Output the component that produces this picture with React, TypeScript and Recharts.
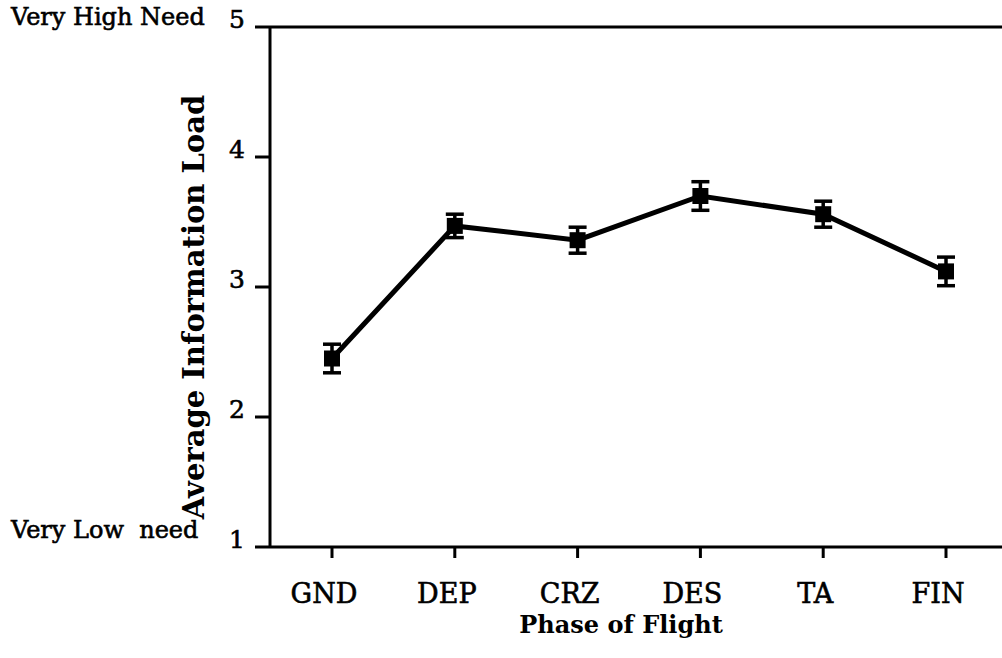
import React from 'react';
import { LineChart, Line, XAxis, YAxis, ErrorBar, ReferenceLine } from 'recharts';

const phases = ['GND', 'DEP', 'CRZ', 'DES', 'TA', 'FIN'];
const loads = [2.45, 3.47, 3.36, 3.7, 3.56, 3.12];
const errors = [0.11, 0.09, 0.1, 0.11, 0.1, 0.11];
const yTicks = [1, 2, 3, 4, 5];

const data = phases.map((phase, i) => ({ phase, load: loads[i], err: errors[i] }));

const FONT = '"DejaVu Serif", "Liberation Serif", serif';
// scanned original looks heavier than a regular weight
const ink = { fill: '#000', stroke: '#000', strokeWidth: 0.6 };

const SquareDot = (props: any) => {
  const { cx, cy } = props;
  if (cx == null || cy == null) return null;
  return <rect x={cx - 8} y={cy - 8} width={16} height={16} fill="#000" />;
};

const YTick = (props: any) => {
  const { y, payload } = props;
  return (
    <g>
      <text x={245} y={y + 1} textAnchor="end" fontSize={25} fontFamily={FONT} {...ink}>
        {payload.value}
      </text>
      {payload.value === 5 && (
        <text x={11} y={25} fontSize={24} fontFamily={FONT} {...ink}>
          Very High Need
        </text>
      )}
      {payload.value === 1 && (
        <text x={11} y={538} fontSize={24} fontFamily={FONT} style={{ whiteSpace: 'pre' }} {...ink}>
          {'Very Low  need'}
        </text>
      )}
    </g>
  );
};

const XTick = (props: any) => {
  const { x, payload } = props;
  return (
    <text x={x - 8} y={603} textAnchor="middle" fontSize={27} fontFamily={FONT} {...ink}>
      {payload.value}
    </text>
  );
};

export default function App() {
  return (
    <div style={{ position: 'absolute', left: 0, top: 0, width: 1002, height: 658, overflow: 'hidden', background: '#fff' }}>
      <LineChart width={1008} height={658} data={data} margin={{ top: 27, right: 0, bottom: 0, left: 0 }}>
        <XAxis
          dataKey="phase"
          height={111}
          padding={{ left: 62, right: 62 }}
          axisLine={{ stroke: '#000', strokeWidth: 3 }}
          tickLine={{ stroke: '#000', strokeWidth: 3 }}
          tickSize={11}
          tick={<XTick />}
          interval={0}
        />
        <YAxis
          domain={[1, 5]}
          ticks={yTicks}
          width={270}
          axisLine={{ stroke: '#000', strokeWidth: 3 }}
          tickLine={{ stroke: '#000', strokeWidth: 3 }}
          tickSize={15}
          tick={<YTick />}
        />
        <ReferenceLine y={5} stroke="#000" strokeWidth={3} />
        <Line
          dataKey="load"
          stroke="#000"
          strokeWidth={5}
          dot={<SquareDot />}
          isAnimationActive={false}
        >
          <ErrorBar dataKey="err" direction="y" width={9} stroke="#000" strokeWidth={3.5} isAnimationActive={false} />
        </Line>
        <text
          x={194}
          y={307}
          transform="rotate(-90 194 307)"
          textAnchor="middle"
          dominantBaseline="central"
          fontSize={29}
          fontWeight="bold"
          fill="#000"
          fontFamily={FONT}
        >
          Average Information Load
        </text>
        <text x={621} y={633} textAnchor="middle" fontSize={24} fontWeight="bold" fill="#000" fontFamily={FONT}>
          Phase of Flight
        </text>
      </LineChart>
    </div>
  );
}
